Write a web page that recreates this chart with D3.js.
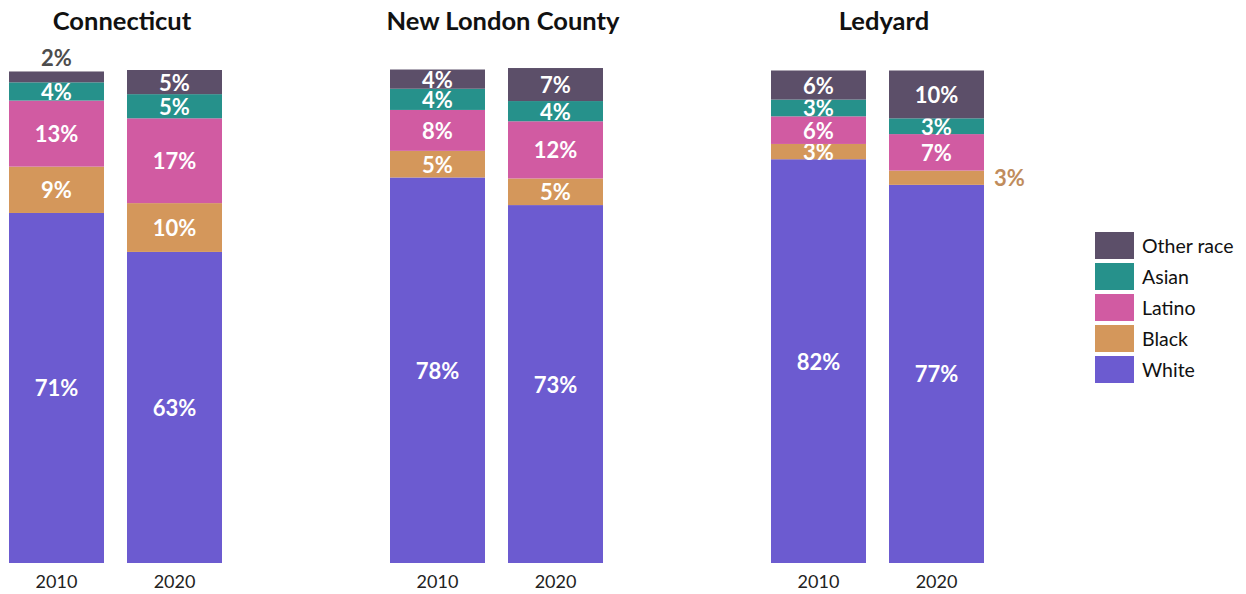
<!DOCTYPE html>
<html>
<head>
  <meta charset="UTF-8">
  <title>Race and ethnicity, 2010 and 2020</title>
  <script src="https://d3js.org/d3.v7.min.js"></script>
  <style>
    body { margin: 0; background: #fff; font-family: "Source Sans Pro", Lato, sans-serif; }
  </style>
</head>
<body>
  <script>
    // data (share of population, %)
    var places = ["Connecticut", "New London County", "Ledyard"];
    var years = ["2010", "2020"];
    var groups = ["White", "Black", "Latino", "Asian", "Other race"];
    var white  = [[71.0, 63.1], [78.2, 72.6], [81.9, 76.7]];
    var black  = [[9.4, 9.9],   [5.4, 5.4],   [3.1, 2.9]];
    var latino = [[13.4, 17.2], [8.3, 11.6],  [5.6, 7.4]];
    var asian  = [[3.7, 4.9],   [4.3, 4.1],   [3.4, 3.2]];
    var other  = [[2.2, 4.9],   [3.9, 6.7],   [5.9, 9.7]];
    var colors = ["#6c5bd0", "#d4975b", "#d15ba2", "#26918b", "#5c4f69"];

    var width = 1246, height = 594;
    var svg = d3.select("body").append("svg")
      .attr("width", width)
      .attr("height", height);

    var seriesVals = [white, black, latino, asian, other];

    // one row per place/year
    var rows = [];
    places.forEach(function (p, i) {
      years.forEach(function (y, j) {
        var r = { place: p, year: y };
        groups.forEach(function (g, k) { r[g] = seriesVals[k][i][j]; });
        rows.push(r);
      });
    });

    var stack = d3.stack().keys(groups);
    var stacked = stack(rows);

    var facetX = d3.scaleBand().domain(places).range([9, 9 + 381 * 3]).paddingInner(0).paddingOuter(0);
    var xBar = d3.scaleBand().domain(years).range([0, 213]).paddingInner(0.195).paddingOuter(0);
    var y = d3.scaleLinear().domain([0, 100]).range([563, 70]);
    var color = d3.scaleOrdinal().domain(groups).range(colors);

    var panels = svg.selectAll("g.panel")
      .data(places)
      .enter()
      .append("g")
      .attr("class", "panel")
      .attr("transform", function (d) { return "translate(" + facetX(d) + ",0)"; });

    panels.append("text")
      .attr("x", 113)
      .attr("y", 30)
      .attr("text-anchor", "middle")
      .style("font-size", "25.5px")
      .style("font-weight", "bold")
      .style("fill", "#111")
      .text(function (d) { return d; });

    var xAxis = d3.axisBottom(xBar).tickSize(0).tickPadding(12);
    panels.append("g")
      .attr("transform", "translate(0,563)")
      .call(xAxis)
      .call(function (g) {
        g.select(".domain").remove();
        g.selectAll("text")
          .style("font-size", "18px")
          .style("font-family", "'Source Sans Pro', Lato, sans-serif")
          .style("fill", "#222");
      });

    // segments
    stacked.forEach(function (layer, k) {
      layer.forEach(function (seg) {
        var r = seg.data;
        var g = panels.filter(function (p) { return p === r.place; });
        var x0 = xBar(r.year), bw = xBar.bandwidth();
        var top = y(seg[1]), bot = y(seg[0]);
        g.append("rect")
          .attr("x", x0)
          .attr("y", top)
          .attr("width", bw)
          .attr("height", bot - top)
          .attr("fill", color(layer.key));

        var v = r[layer.key];
        var label = Math.round(v) + "%";
        var t = g.append("text")
          .style("font-size", "22px")
          .style("font-weight", "bold")
          .attr("dominant-baseline", "central")
          .text(label);
        if (v >= 3) {
          t.attr("x", x0 + bw / 2)
            .attr("y", (top + bot) / 2)
            .attr("text-anchor", "middle")
            .style("fill", "#fff");
        } else if (k === groups.length - 1) {
          t.attr("x", x0 + bw / 2)
            .attr("y", top - 14)
            .attr("text-anchor", "middle")
            .style("fill", "#4d4d4d");
        } else {
          t.attr("x", x0 + bw + 10)
            .attr("y", (top + bot) / 2)
            .attr("text-anchor", "start")
            .style("fill", "#c08c5c");
        }
      });
    });

    // legend, top item is "Other race"
    var legend = svg.append("g").attr("transform", "translate(1095,232)");
    var items = legend.selectAll("g")
      .data(groups.slice().reverse())
      .enter()
      .append("g")
      .attr("transform", function (d, i) { return "translate(0," + i * 31 + ")"; });
    items.append("rect")
      .attr("width", 39)
      .attr("height", 27)
      .attr("fill", function (d) { return color(d); });
    items.append("text")
      .attr("x", 47)
      .attr("y", 13)
      .attr("dominant-baseline", "central")
      .style("font-size", "19.5px")
      .style("fill", "#111")
      .text(function (d) { return d; });
  </script>
</body>
</html>
